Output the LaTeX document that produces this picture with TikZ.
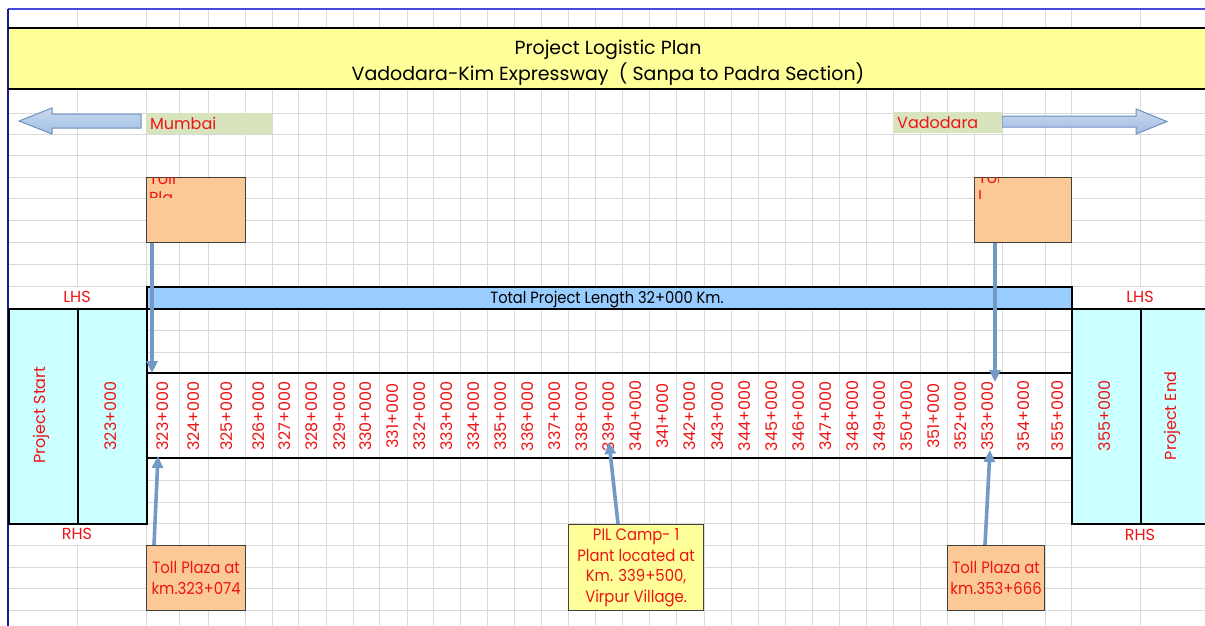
\documentclass[tikz,border=0pt]{standalone}
\usepackage{fontspec}
\setmainfont{Poppins}
\newfontfamily\narrowf[FakeStretch=0.9]{Poppins}
\usetikzlibrary{arrows.meta,calc}
\definecolor{gridc}{HTML}{D9D9D9}
\definecolor{titley}{HTML}{FFFF99}
\definecolor{lblred}{HTML}{EE1414}
\definecolor{org}{HTML}{FBC995}
\definecolor{cyn}{HTML}{CCFFFF}
\definecolor{barb}{HTML}{99CCFF}
\definecolor{grn}{HTML}{D7E4BD}
\definecolor{arrc}{HTML}{7399C6}
\definecolor{blkfill}{HTML}{A2BFE3}
\definecolor{blkline}{HTML}{6D90BE}
\definecolor{pageb}{HTML}{4848E0}
\definecolor{pagel}{HTML}{1A1A90}
\definecolor{boxline}{HTML}{404040}
\begin{document}
\begin{tikzpicture}[x=1pt,y=-1pt,
  gridline/.style={draw=gridc,line width=0.9pt},
  lbl/.style={text=lblred,font=\fontsize{16}{20.5}\selectfont},
  nlbl/.style={text=lblred,font=\narrowf\fontsize{16.5}{20.5}\selectfont},
  blk/.style={text=black,font=\narrowf\fontsize{16.3}{20.5}\selectfont},
  ttl/.style={text=black,font=\fontsize{19}{26}\selectfont},
  heavy/.style={draw=black,line width=2pt},
  tollbox/.style={draw=boxline,line width=1.2pt,fill=org,inner sep=0pt,anchor=north west},
  notebox/.style={draw=boxline,line width=1.2pt,inner sep=0pt,anchor=north west,align=center,nlbl},
  cyanbox/.style={heavy,fill=cyn,inner sep=0pt,anchor=north west,minimum height=215pt},
  conn/.style={draw=arrc,line width=3.6pt,-{Triangle[width=11pt,length=12pt]}},
  blockarr/.style={draw=blkline,line width=1pt,top color=blkfill!60!white,bottom color=blkfill},
  greenbox/.style={fill=grn,inner sep=0pt,inner xsep=4pt,anchor=north west,minimum height=21pt,align=left,lbl}
]
\useasboundingbox (0,0) rectangle (1205,626);
\fill[white] (0,0) rectangle (1205,626);
% ---------- spreadsheet grid ----------
\foreach \x in {77,146,179,208,245,272,298,326,353,379,407,433,460,487,514,541,568,595,622,649,676,704,731,758,785,812,839,866,893,920,947,974,1002,1045,1071,1140}
  \draw[gridline] (\x,9) -- (\x,626);
\foreach \y in {113,134,155,177,198,220,242,264,286,308,330,352,373,395,416,437,458,480,502,523,545,567,588,610}
  \draw[gridline] (8,\y) -- (1205,\y);
% page border
\draw[pageb,line width=1.3pt] (8,9) -- (1206,9);
\draw[pagel,line width=1.8pt] (8,9) -- (8,627);
% ---------- title ----------
\fill[titley] (9,28) rectangle (1207,89);
\draw[line width=2pt] (8,28) -- (1207,28) (8,89) -- (1207,89);
\node[ttl,anchor=base] (t1) at (608,55) {Project Logistic Plan};
\node[ttl,anchor=base] (t2) at (608,81) {Vadodara-Kim Expressway\ \ ( Sanpa to Padra Section)};
% ---------- direction arrows ----------
\draw[blockarr] (141,114) -- (52,114) -- (52,108) -- (19,121) -- (52,134) -- (52,128) -- (141,128) -- cycle;
\node[greenbox,minimum width=126pt,text width=118pt] (mumbai) at (146,113) {Mumbai};
\draw[blockarr] (1002,116) -- (1136,116) -- (1136,109) -- (1167,121.5) -- (1136,134) -- (1136,127) -- (1002,127) -- cycle;
\node[greenbox,minimum width=109pt,text width=101pt] (vadodara) at (893,112) {Vadodara};
% ---------- upper toll boxes (clipped text) ----------
\node[tollbox,minimum width=99pt,minimum height=65pt] (tolltl) at (146,177) {};
\begin{scope}
  \clip (147,177.6) rectangle (177,197.5);
  \node[lbl,anchor=base west,inner sep=0pt] (tolltla) at (149,184) {Toll};
  \node[lbl,anchor=base west,inner sep=0pt] (tolltlb) at (149,203) {Pla};
\end{scope}
\node[tollbox,minimum width=97pt,minimum height=65pt] (tolltr) at (974,177) {};
\begin{scope}
  \clip (975,177.6) rectangle (998,198);
  \node[lbl,anchor=base west,inner sep=0pt] (tolltra) at (978,183) {Toll};
  \node[lbl,anchor=base west,inner sep=0pt] (tolltrb) at (978,202) {l};
\end{scope}
% ---------- LHS / RHS rows ----------
\fill[white] (9,286.6) rectangle (145.5,307);
\fill[white] (1071.5,286.6) rectangle (1206,307);
\fill[white] (9,524) rectangle (145.5,544.5);
\fill[white] (1071.5,524) rectangle (1206,544.5);
\node[lbl] (lhsl) at (77,297) {LHS};
\node[lbl] (lhsr) at (1140,297) {LHS};
\node[lbl] (rhsl) at (77,534) {RHS};
\node[lbl] (rhsr) at (1140,535) {RHS};
% ---------- total length bar ----------
\node[heavy,fill=barb,inner sep=0pt,anchor=north west,minimum width=925pt,minimum height=22pt] (bar) at (146,286) {};
\node[blk,anchor=base] (bartxt) at (607,303) {Total Project Length 32+000 Km.};
% ---------- chainage strip ----------
\fill[white] (146,373) rectangle (1071,458);
\foreach \x in {179,208,245,272,298,326,353,379,407,433,460,487,514,541,568,595,622,649,676,704,731,758,785,812,839,866,893,920,947,974,1002,1045}
  \draw[gridline] (\x,373) -- (\x,458);
\draw[line width=1.6pt] (146,373) -- (1071,373) (146,458) -- (1071,458);
\foreach \a/\b [count=\i from 0] in {146/179,179/208,208/245,245/272,272/298,298/326,326/353,353/379,379/407,407/433,433/460,460/487,487/514,514/541,541/568,568/595,595/622,622/649,649/676,676/704,704/731,731/758,758/785,785/812,812/839,839/866,866/893,893/920,920/947,947/974,974/1002,1002/1045,1045/1071}{
  \pgfmathtruncatemacro\k{323+\i}
  \node[lbl,rotate=90,inner sep=0pt] (ch\k) at ({(\a+\b)/2},416) {\k+000};
}
% ---------- start / end blocks ----------
\node[cyanbox,minimum width=69pt] (pstart) at (8,308) {};
\node[cyanbox,minimum width=69pt] (kmstart) at (77,308) {};
\node[cyanbox,minimum width=69pt] (kmend) at (1071,308) {};
\node[cyanbox,minimum width=70pt] (pend) at (1140,308) {};
\node[lbl,rotate=90] (pstarttxt) at (41,415) {Project Start};
\node[lbl,rotate=90,inner sep=0pt] (kmstarttxt) at (111,416) {323+000};
\node[lbl,rotate=90,inner sep=0pt] (kmendtxt) at (1105,416) {355+000};
\node[lbl,rotate=90] (pendtxt) at (1172,416) {Project End};
% ---------- lower boxes ----------
\node[tollbox,notebox,fill=org,minimum width=99pt,minimum height=65pt] (tollbl) at (146,545) {Toll Plaza at\\km.323+074};
\node[tollbox,notebox,fill=org,minimum width=97pt,minimum height=65pt] (tollbr) at (947,545) {Toll Plaza at\\km.353+666};
\node[notebox,fill=titley,minimum width=135pt,minimum height=86pt] (pil) at (568,524) {PIL Camp- 1\\Plant located at\\Km. 339+500,\\Virpur Village.};
% ---------- connectors ----------
\coordinate (tipa) at (152,373);
\coordinate (tipb) at (995,382);
\coordinate (tipc) at (158,456);
\coordinate (tipd) at (609,442);
\coordinate (tipe) at (990,450);
\draw[conn] ($(tolltl.south west)+(6,0)$) -- (tipa);
\draw[conn] ($(tolltr.south west)+(21,0)$) -- (tipb);
\draw[conn] ($(tollbl.north west)+(8,0)$) -- (tipc);
\draw[conn] ($(pil.north west)+(50,0)$) -- (tipd);
\draw[conn] ($(tollbr.north west)+(38,0)$) -- (tipe);
\end{tikzpicture}
\end{document}
